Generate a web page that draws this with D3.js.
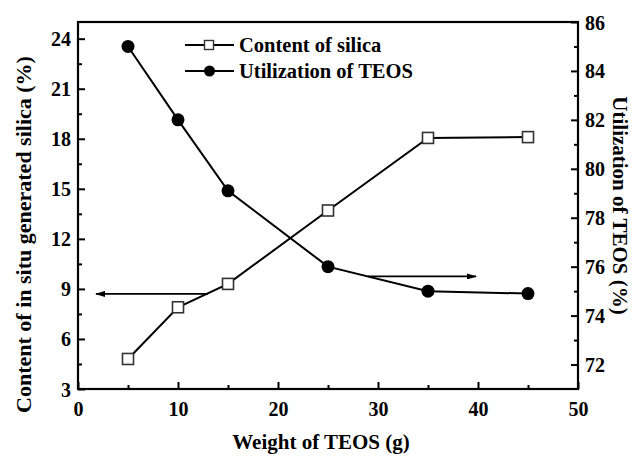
<!DOCTYPE html>
<html>
<head>
<meta charset="utf-8">
<script src="https://cdn.jsdelivr.net/npm/d3@7"></script>
<style>
  body { margin: 0; background: #fff; }
</style>
</head>
<body>
<svg id="chart" width="640" height="459"></svg>
<script>
// data
var weight = [5, 10, 15, 25, 35, 45];
var silica = [4.8, 7.9, 9.3, 13.7, 18.05, 18.1];
var utilization = [85.0, 82.0, 79.1, 76.0, 75.0, 74.9];
var xTicks = [0, 10, 20, 30, 40, 50];
var leftTicks = [3, 6, 9, 12, 15, 18, 21, 24];
var rightTicks = [72, 74, 76, 78, 80, 82, 84, 86];
// arrows pointing to the axis each series belongs to
var leftArrow = {x0: 13, x1: 1.8, y: 8.7};
var rightArrow = {x0: 29, x1: 39.8, y: 75.6};

var serif = "'Liberation Serif', 'Times New Roman', 'DejaVu Serif', serif";
var svg = d3.select("#chart")
  .style("font-family", serif).style("font-weight", "bold");
var margin = {top: 22, right: 62, bottom: 70, left: 78};
var width = 640 - margin.left - margin.right;
var height = 459 - margin.top - margin.bottom;
var g = svg.append("g").attr("transform", "translate(" + margin.left + "," + margin.top + ")");

var x = d3.scaleLinear().domain([0, 50]).range([0, width]);
var yL = d3.scaleLinear().domain([3, 25]).range([height, 0]);
var yR = d3.scaleLinear().domain([71, 86]).range([height, 0]);

svg.append("defs").append("marker")
  .attr("id", "head")
  .attr("viewBox", "0 0 10 6")
  .attr("refX", 9).attr("refY", 3)
  .attr("markerWidth", 11).attr("markerHeight", 6)
  .attr("markerUnits", "userSpaceOnUse")
  .attr("orient", "auto")
  .append("path").attr("d", "M0,0L10,3L0,6Z").attr("fill", "#000");

function minor(axis, scale, vals, len) {
  return axis(scale).tickValues(vals).tickSize(len).tickFormat("");
}
var tickFont = "20px";

// minor ticks
g.append("g").attr("transform", "translate(0," + height + ")")
  .call(minor(d3.axisTop, x, d3.range(5, 50, 10), 4));
g.append("g").call(minor(d3.axisRight, yL, d3.range(4.5, 25, 3), 4));
g.append("g").attr("transform", "translate(" + width + ",0)")
  .call(minor(d3.axisLeft, yR, d3.range(73, 86, 2), 4));

var xAxis = g.append("g").attr("transform", "translate(0," + height + ")")
  .call(d3.axisTop(x).tickValues(xTicks).tickSize(7));
var lAxis = g.append("g")
  .call(d3.axisRight(yL).tickValues(leftTicks).tickSize(7));
var rAxis = g.append("g").attr("transform", "translate(" + width + ",0)")
  .call(d3.axisLeft(yR).tickValues(rightTicks).tickSize(7));

g.selectAll("g").attr("font-family", null).attr("font-size", null);
lAxis.selectAll("text").attr("text-anchor", "end").attr("x", -7).attr("dy", "0.35em");
rAxis.selectAll("text").attr("text-anchor", "start").attr("x", 7).attr("dy", "0.35em");
xAxis.selectAll("text").attr("y", 12).attr("dy", "0.75em");

g.selectAll(".domain").remove();
g.selectAll(".tick line").attr("stroke", "#000").attr("stroke-width", 2);
g.selectAll(".tick text").style("font-size", tickFont).attr("fill", "#000");

// frame
g.append("rect").attr("width", width).attr("height", height)
  .attr("fill", "none").attr("stroke", "#000").attr("stroke-width", 2.2);

// arrows
[[leftArrow, yL], [rightArrow, yR]].forEach(function(a) {
  g.append("line")
    .attr("x1", x(a[0].x0)).attr("x2", x(a[0].x1))
    .attr("y1", a[1](a[0].y)).attr("y2", a[1](a[0].y))
    .attr("stroke", "#000").attr("stroke-width", 1.8)
    .attr("marker-end", "url(#head)");
});

// lines
var lineL = d3.line().x(function(d, i) { return x(weight[i]); }).y(function(d) { return yL(d); });
var lineR = d3.line().x(function(d, i) { return x(weight[i]); }).y(function(d) { return yR(d); });
g.append("path").datum(silica).attr("d", lineL)
  .attr("fill", "none").attr("stroke", "#000").attr("stroke-width", 2);
g.append("path").datum(utilization).attr("d", lineR)
  .attr("fill", "none").attr("stroke", "#000").attr("stroke-width", 2);

// markers
g.selectAll(".sq").data(silica).enter().append("rect")
  .attr("x", function(d, i) { return x(weight[i]) - 5.5; })
  .attr("y", function(d) { return yL(d) - 5.5; })
  .attr("width", 11).attr("height", 11)
  .attr("fill", "#fff").attr("stroke", "#333").attr("stroke-width", 1.6);
g.selectAll(".dot").data(utilization).enter().append("circle")
  .attr("cx", function(d, i) { return x(weight[i]); })
  .attr("cy", function(d) { return yR(d); })
  .attr("r", 6.5).attr("fill", "#000");

// legend
var legend = svg.append("g").attr("transform", "translate(185,45)");
["Content of silica", "Utilization of TEOS"].forEach(function(name, i) {
  var row = legend.append("g").attr("transform", "translate(0," + i * 26 + ")");
  row.append("line").attr("x1", 0).attr("x2", 49).attr("y1", 0).attr("y2", 0)
    .attr("stroke", "#000").attr("stroke-width", 2);
  if (i == 0) {
    row.append("rect").attr("x", 19.5).attr("y", -4.5).attr("width", 9).attr("height", 9)
      .attr("fill", "#fff").attr("stroke", "#333").attr("stroke-width", 1.4);
  } else {
    row.append("circle").attr("cx", 24.5).attr("cy", 0).attr("r", 5.5).attr("fill", "#000");
  }
  row.append("text").attr("x", 54).attr("y", 7).style("font-size", "20.5px").text(name);
});

// axis titles
svg.append("text").attr("x", 321).attr("y", 449)
  .attr("text-anchor", "middle").style("font-size", "21px").text("Weight of TEOS (g)");
svg.append("text")
  .attr("transform", "translate(31," + (margin.top + height / 2 + 29) + ") rotate(-90)")
  .attr("text-anchor", "middle").style("font-size", "22px")
  .text("Content of in situ generated silica (%)");
svg.append("text")
  .attr("transform", "translate(613," + (margin.top + height / 2) + ") rotate(90)")
  .attr("text-anchor", "middle").style("font-size", "21px")
  .text("Utilization of TEOS (%)");
</script>
</body>
</html>
